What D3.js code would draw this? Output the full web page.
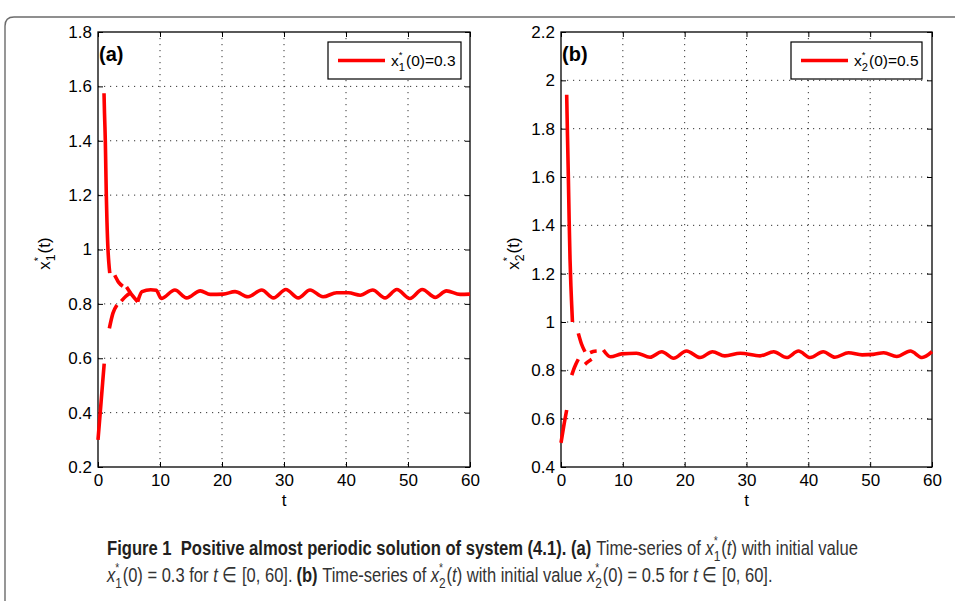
<!DOCTYPE html>
<html><head><meta charset="utf-8">
<script src="https://cdn.jsdelivr.net/npm/d3@7"></script>
<style>body{margin:0;background:#fff}svg{display:block}</style>
</head><body>
<script>
// ---------- data ----------
const tTicks = [0, 10, 20, 30, 40, 50, 60];
const yTicksA = [0.2, 0.4, 0.6, 0.8, 1, 1.2, 1.4, 1.6, 1.8];
const yTicksB = [0.4, 0.6, 0.8, 1, 1.2, 1.4, 1.6, 1.8, 2, 2.2];

// panel (a) transient pieces (null = break between visible pieces)
const aUpperT = [0.97, 1.05, 1.12, 1.18, 1.26, 1.34, 1.45, 1.61, 1.75, 1.9, null, 2.7, 3.3, 4.0, null, 4.6, 5.5, 6.4];
const aUpperV = [1.575, 1.5, 1.45, 1.40, 1.3, 1.2, 1.1, 1.0, 0.95, 0.913, null, 0.905, 0.88, 0.865, null, 0.862, 0.832, 0.808];
const aLowerT = [0, 0.5, 1.0, null, 1.83, 2.4, 3.06, null, 3.76, 4.5, 5.2];
const aLowerV = [0.3, 0.44, 0.58, null, 0.71, 0.765, 0.796, null, 0.81, 0.828, 0.84];
const aWaveT = [6.4, 7.1, 8.5, 9.4, 10.2, 12.4, 14.3, 16.5, 18.1, 20.2, 22.1, 24.2, 26.4, 28.3, 30.3, 32.3, 34.2, 36.3, 38.5, 40.4, 42.3, 44.3, 46.3, 48.2, 50.3, 52.3, 54.4, 56.2, 58.4, 60];
const aWaveV = [0.808, 0.845, 0.852, 0.85, 0.82, 0.851, 0.822, 0.848, 0.835, 0.836, 0.845, 0.826, 0.851, 0.822, 0.853, 0.822, 0.851, 0.826, 0.841, 0.841, 0.832, 0.851, 0.822, 0.853, 0.82, 0.853, 0.824, 0.848, 0.835, 0.836];

// panel (b)
const bUpperT = [0.92, 1.05, 1.19, 1.32, 1.46, 1.6, 1.73, 1.85, null, 2.8, 3.3, 3.88, null, 4.7, 5.2, 5.77];
const bUpperV = [1.94, 1.77, 1.60, 1.42, 1.26, 1.15, 1.07, 1.0, null, 0.953, 0.91, 0.877, null, 0.873, 0.878, 0.88];
const bLowerT = [0, 0.45, 0.92, null, 1.73, 2.0, 2.4, 2.8, null, 3.88, 4.4, 4.96];
const bLowerV = [0.5, 0.57, 0.636, null, 0.78, 0.80, 0.825, 0.846, null, 0.825, 0.836, 0.846];
const bWaveT = [6.85, 8.0, 9.8, 12.2, 14.4, 16.3, 18.2, 20.3, 22.5, 24.5, 26.5, 29.0, 32.2, 34.4, 36.5, 38.4, 40.3, 42.4, 44.3, 46.5, 48.7, 50.5, 52.2, 54.3, 56.5, 58.4, 60];
const bWaveV = [0.884, 0.856, 0.868, 0.871, 0.854, 0.877, 0.85, 0.88, 0.853, 0.877, 0.86, 0.871, 0.86, 0.877, 0.853, 0.88, 0.853, 0.877, 0.854, 0.873, 0.864, 0.866, 0.873, 0.857, 0.88, 0.853, 0.877];

const panelLabels = ["(a)", "(b)"];
const legendSub = ["1", "2"];
const legendInit = ["(0)=0.3", "(0)=0.5"];

// ---------- drawing ----------
const W = 955, H = 601;
const svg = d3.select("body").append("svg").attr("width", W).attr("height", H);
const FONT = "'Liberation Sans', Arial, Helvetica, sans-serif";

// frame
svg.append("path")
  .attr("d", "M5,602 L5,26 Q5,17 14,17 L960,17")
  .attr("fill", "none").attr("stroke", "#6b6b6b").attr("stroke-width", 1.4);

// helper: render sequence of text pieces at cumulative x
function pieces(g, x0, y0, parts, base) {
  let cx = x0;
  parts.forEach(p => {
    if (p.stack) {
      const s = g.append("text").attr("x", cx).attr("y", y0 - base.size * 0.5)
        .attr("font-size", base.size * 0.62).attr("font-family", base.family).attr("fill", base.fill).text(p.stack[0]);
      const b = g.append("text").attr("x", cx).attr("y", y0 + base.size * 0.3)
        .attr("font-size", base.size * 0.72).attr("font-family", base.family).attr("fill", base.fill).text(p.stack[1]);
      cx += Math.max(s.node().getComputedTextLength(), b.node().getComputedTextLength()) + 1;
    } else {
      const t = g.append("text").attr("x", cx).attr("y", y0)
        .attr("font-size", p.size || base.size).attr("font-family", base.family)
        .attr("font-weight", p.bold ? "bold" : null).attr("font-style", p.italic ? "italic" : null)
        .attr("fill", p.fill || base.fill).style("white-space", "pre").text(p.t);
      cx += t.node().getComputedTextLength();
    }
  });
  return cx - x0;
}

function toPts(T, V) { return T.map((t, i) => [t, V[i]]); }

const panels = [
  { left: 98, right: 470, yTicks: yTicksA, up: [aUpperT, aUpperV], low: [aLowerT, aLowerV], wave: [aWaveT, aWaveV], ylabX: 44, legX: 328, legW: 133 },
  { left: 561, right: 932, yTicks: yTicksB, up: [bUpperT, bUpperV], low: [bLowerT, bLowerV], wave: [bWaveT, bWaveV], ylabX: 513, legX: 791, legW: 131 }
];
const yTop = 32, yBot = 467;

panels.forEach((P, pi) => {
  const x = d3.scaleLinear().domain([0, 60]).range([P.left, P.right]);
  const yd = d3.extent(P.yTicks);
  const y = d3.scaleLinear().domain(yd).range([yBot, yTop]);
  const g = svg.append("g");

  // grid
  const grid = g.append("g").attr("stroke", "#333").attr("stroke-width", 1).attr("stroke-dasharray", "1.2,4.8");
  tTicks.slice(1, -1).forEach(t => grid.append("line").attr("x1", x(t)).attr("x2", x(t)).attr("y1", yTop).attr("y2", yBot));
  P.yTicks.slice(1, -1).forEach(v => grid.append("line").attr("x1", P.left).attr("x2", P.right).attr("y1", y(v)).attr("y2", y(v)));

  // axes
  const fmt = d3.format("~g");
  const axL = g.append("g").attr("transform", `translate(${P.left},0)`)
    .call(d3.axisLeft(y).tickValues(P.yTicks).tickFormat(fmt).tickSizeInner(-5).tickSizeOuter(0).tickPadding(6));
  const axR = g.append("g").attr("transform", `translate(${P.right},0)`)
    .call(d3.axisRight(y).tickValues(P.yTicks).tickFormat("").tickSizeInner(-5).tickSizeOuter(0));
  const axB = g.append("g").attr("transform", `translate(0,${yBot})`)
    .call(d3.axisBottom(x).tickValues(tTicks).tickFormat(fmt).tickSizeInner(-5).tickSizeOuter(0).tickPadding(7));
  const axT = g.append("g").attr("transform", `translate(0,${yTop})`)
    .call(d3.axisTop(x).tickValues(tTicks).tickFormat("").tickSizeInner(-5).tickSizeOuter(0));
  [axL, axR, axB, axT].forEach(a => {
    a.select(".domain").remove();
    a.selectAll("line").attr("stroke", "#000");
    a.selectAll("text").attr("font-family", FONT).attr("font-size", 17).attr("fill", "#000");
  });
  g.append("rect").attr("x", P.left).attr("y", yTop).attr("width", P.right - P.left).attr("height", yBot - yTop)
    .attr("fill", "none").attr("stroke", "#000").attr("stroke-width", 1.3);

  // curves
  const line = d3.line().defined(d => d[1] != null).x(d => x(d[0])).y(d => y(d[1])).curve(d3.curveMonotoneX);
  const cg = g.append("g").attr("fill", "none").attr("stroke", "#ff0000").attr("stroke-width", 3.6)
    .attr("stroke-linejoin", "round").attr("stroke-linecap", "butt");
  [P.up, P.low, P.wave].forEach(s => cg.append("path").attr("d", line(toPts(s[0], s[1]))));

  // x label
  g.append("text").attr("x", (P.left + P.right) / 2).attr("y", 506).attr("text-anchor", "middle")
    .attr("font-family", FONT).attr("font-size", 17).text("t");

  // y label (rotated)
  const yl = g.append("g").attr("transform", `translate(${P.ylabX},${(yTop + yBot) / 2 + 4}) rotate(-90)`);
  const yw = pieces(yl, 0, 6, [{ t: "x" }, { stack: ["*", legendSub[pi]] }, { t: "(t)" }], { size: 17, family: FONT, fill: "#000" });
  yl.selectAll("text").attr("x", function () { return +d3.select(this).attr("x") - yw / 2; });

  // panel label
  g.append("text").attr("x", P.left + 1).attr("y", 61).attr("font-family", FONT).attr("font-weight", "bold")
    .attr("font-size", 20).text(panelLabels[pi]);

  // legend
  g.append("rect").attr("x", P.legX).attr("y", 42).attr("width", P.legW).attr("height", 37)
    .attr("fill", "#fff").attr("stroke", "#000").attr("stroke-width", 1.2);
  g.append("line").attr("x1", P.legX + 10).attr("x2", P.legX + 57).attr("y1", 60.5).attr("y2", 60.5)
    .attr("stroke", "#ff0000").attr("stroke-width", 3.6);
  const lg = g.append("g");
  pieces(lg, P.legX + 63, 66, [{ t: "x" }, { stack: ["*", legendSub[pi]] }, { t: legendInit[pi] }], { size: 15.5, family: FONT, fill: "#000" });
});

// ---------- caption ----------
const CF = "'Liberation Sans Narrow', 'Liberation Sans', Arial, sans-serif";
const capBase = { size: 20.5, family: CF, fill: "#333" };
const boldFill = "#231f20";
const line1 = [
  { t: "Figure 1  Positive almost periodic solution of system (4.1). (a) ", bold: true, fill: boldFill },
  { t: "Time-series of " }, { t: "x", italic: true }, { stack: ["*", "1"] }, { t: "(" }, { t: "t", italic: true }, { t: ") with initial value" }
];
const line2 = [
  { t: "x", italic: true }, { stack: ["*", "1"] }, { t: "(0) = 0.3 for " }, { t: "t", italic: true }, { t: " \u2208 [0, 60]. " },
  { t: "(b) ", bold: true, fill: boldFill }, { t: "Time-series of " }, { t: "x", italic: true }, { stack: ["*", "2"] }, { t: "(" }, { t: "t", italic: true },
  { t: ") with initial value " }, { t: "x", italic: true }, { stack: ["*", "2"] }, { t: "(0) = 0.5 for " }, { t: "t", italic: true }, { t: " \u2208 [0, 60]." }
];
function capLine(parts, y, targetW) {
  const g = svg.append("g");
  const inner = g.append("g");
  const w = pieces(inner, 0, 0, parts, capBase);
  const s = targetW / w;
  g.attr("transform", `translate(107,${y}) scale(${s},1)`);
}
capLine(line1, 555, 751);
capLine(line2, 582, 665);
</script>
</body></html>
